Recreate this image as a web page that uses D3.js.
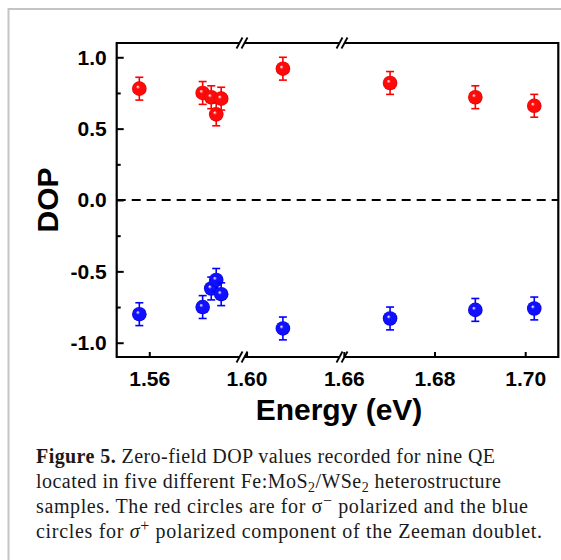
<!DOCTYPE html>
<html><head><meta charset="utf-8">
<script src="https://cdn.jsdelivr.net/npm/d3@7"></script>
<style>body{margin:0;background:#fff}svg{display:block}</style>
</head><body>
<svg id="chart" width="561" height="560"></svg>
<script>
// ---- data ----
const energies = [1.5578, 1.5718, 1.5737, 1.5748, 1.5759, 1.608, 1.6702, 1.689, 1.702];
const dopRed   = [0.78, 0.75, 0.72, 0.60, 0.71, 0.92, 0.82, 0.72, 0.66];
const errRed   = [0.08, 0.08, 0.08, 0.08, 0.08, 0.08, 0.08, 0.08, 0.08];
const dopBlue  = [-0.80, -0.75, -0.62, -0.56, -0.66, -0.90, -0.83, -0.77, -0.76];
const errBlue  = [0.08, 0.08, 0.08, 0.08, 0.08, 0.08, 0.08, 0.08, 0.08];
const xTicks = [1.56, 1.60, 1.66, 1.68, 1.70];
const xTickLabels = ["1.56", "1.60", "1.66", "1.68", "1.70"];
const yTicks = [1.0, 0.5, 0.0, -0.5, -1.0];
const yTickLabels = ["1.0", "0.5", "0.0", "-0.5", "-1.0"];
const yMinorTicks = [0.75, 0.25, -0.25, -0.75];
// broken x axis: three segments
const xSegments = [[1.5528, 1.5805], [1.5990, 1.6210], [1.6596, 1.7073]];

const svg = d3.select("#chart");
const L = 116.7, R = 558.3, T = 43, B = 357;
const brk = [242, 342];

const x = d3.scaleLinear()
  .domain([xSegments[0][0], xSegments[0][1], xSegments[1][0], xSegments[1][1], xSegments[2][0], xSegments[2][1]])
  .range([L, brk[0], brk[0], brk[1], brk[1], R]);
const y = d3.scaleLinear().domain([-1.1, 1.1]).range([B, T]);

// outer gray frame
svg.append("rect").attr("x", 8.5).attr("y", 9).attr("width", 700).attr("height", 700)
  .attr("fill", "none").attr("stroke", "#c4c4c4").attr("stroke-width", 2);

// gradients
const defs = svg.append("defs");
function grad(id, base, dark) {
  const g = defs.append("radialGradient").attr("id", id)
    .attr("cx", "50%").attr("cy", "50%").attr("r", "50%").attr("fx", "38%").attr("fy", "36%");
  g.append("stop").attr("offset", "0%").attr("stop-color", "#ffffff");
  g.append("stop").attr("offset", "28%").attr("stop-color", base);
  g.append("stop").attr("offset", "85%").attr("stop-color", base);
  g.append("stop").attr("offset", "100%").attr("stop-color", dark);
}
grad("gRed", "#ff0a0a", "#d00000");
grad("gBlue", "#1010ff", "#0000c8");

// zero dashed line
svg.append("line").attr("x1", L).attr("x2", R).attr("y1", y(0)).attr("y2", y(0))
  .attr("stroke", "#000").attr("stroke-width", 2).attr("stroke-dasharray", "9,6");

// axes box with breaks
const axG = svg.append("g").attr("stroke", "#000").attr("stroke-width", 2.2).attr("fill", "none");
const gap = 3;
[T, B].forEach(yy => {
  const segs = [[L, brk[0] - gap], [brk[0] + gap, brk[1] - gap], [brk[1] + gap, R]];
  segs.forEach(([a, b]) => axG.append("line").attr("x1", a).attr("x2", b).attr("y1", yy).attr("y2", yy));
  brk.forEach(bx => {
    [-2.5, 2.5].forEach(o => {
      axG.append("line").attr("x1", bx + o - 3).attr("y1", yy + 5.5).attr("x2", bx + o + 3).attr("y2", yy - 5.5)
        .attr("stroke-width", 1.8);
    });
  });
});
axG.append("line").attr("x1", L).attr("x2", L).attr("y1", T - 1).attr("y2", B + 1);
axG.append("line").attr("x1", R).attr("x2", R).attr("y1", T - 1).attr("y2", B + 1);

// y ticks
const yAxis = d3.axisLeft(y).tickValues(yTicks).tickSize(-7).tickPadding(10)
  .tickFormat((d, i) => yTickLabels[i]);
const gy = svg.append("g").attr("transform", `translate(${L},0)`).call(yAxis);
gy.select(".domain").remove();
gy.selectAll(".tick line").attr("stroke", "#000").attr("stroke-width", 2);
gy.selectAll(".tick text").attr("font-family", "Liberation Sans, Arial, sans-serif")
  .attr("font-weight", "bold").attr("font-size", 21).attr("fill", "#000");
const yMinor = d3.axisLeft(y).tickValues(yMinorTicks).tickSize(-4).tickFormat("");
const gym = svg.append("g").attr("transform", `translate(${L},0)`).call(yMinor);
gym.select(".domain").remove();
gym.selectAll(".tick line").attr("stroke", "#000").attr("stroke-width", 2);

// x ticks
const xAxis = d3.axisBottom(x).tickValues(xTicks).tickSize(-5).tickPadding(14)
  .tickFormat((d, i) => xTickLabels[i]);
const gx = svg.append("g").attr("transform", `translate(0,${B})`).call(xAxis);
gx.select(".domain").remove();
gx.selectAll(".tick line").attr("stroke", "#000").attr("stroke-width", 2);
gx.selectAll(".tick text").attr("font-family", "Liberation Sans, Arial, sans-serif")
  .attr("font-weight", "bold").attr("font-size", 21).attr("fill", "#000");

// axis titles
svg.append("text").attr("x", 339).attr("y", 420).attr("text-anchor", "middle")
  .attr("font-family", "Liberation Sans, Arial, sans-serif").attr("font-weight", "bold")
  .attr("font-size", 30).text("Energy (eV)");
svg.append("text").attr("transform", `translate(58,${y(0)}) rotate(-90)`).attr("text-anchor", "middle")
  .attr("font-family", "Liberation Sans, Arial, sans-serif").attr("font-weight", "bold")
  .attr("font-size", 30).text("DOP");

// data series
function series(vals, errs, color, gid) {
  const g = svg.append("g");
  const pts = energies.map((e, i) => ({ e, v: vals[i], err: errs[i] }));
  pts.forEach(p => {
    const eg = g.append("g").attr("stroke", color).attr("stroke-width", 1.6);
    eg.append("line").attr("x1", x(p.e)).attr("x2", x(p.e)).attr("y1", y(p.v + p.err)).attr("y2", y(p.v - p.err));
    eg.append("line").attr("x1", x(p.e) - 4).attr("x2", x(p.e) + 4).attr("y1", y(p.v + p.err)).attr("y2", y(p.v + p.err));
    eg.append("line").attr("x1", x(p.e) - 4).attr("x2", x(p.e) + 4).attr("y1", y(p.v - p.err)).attr("y2", y(p.v - p.err));
    g.append("circle").attr("cx", x(p.e)).attr("cy", y(p.v)).attr("r", 7.3).attr("fill", `url(#${gid})`);
  });
}
series(dopRed, errRed, "#ff0000", "gRed");
series(dopBlue, errBlue, "#0000ff", "gBlue");

// caption
const cap = svg.append("g").attr("font-family", "Liberation Serif, Times New Roman, serif")
  .attr("font-size", 20).attr("fill", "#1a1a1a");
const capX = 36;
const l1 = cap.append("text").attr("x", capX).attr("y", 463).attr("textLength", 459).attr("lengthAdjust", "spacing");
l1.append("tspan").attr("font-weight", "bold").text("Figure 5.");
l1.append("tspan").text(" Zero-field DOP values recorded for nine QE");
const l2 = cap.append("text").attr("x", capX).attr("y", 488).attr("textLength", 465).attr("lengthAdjust", "spacing");
l2.append("tspan").text("located in five different Fe:MoS");
l2.append("tspan").attr("font-size", 14).attr("dy", 4).text("2");
l2.append("tspan").attr("dy", -4).text("/WSe");
l2.append("tspan").attr("font-size", 14).attr("dy", 4).text("2");
l2.append("tspan").attr("dy", -4).text(" heterostructure");
const l3 = cap.append("text").attr("x", capX).attr("y", 513).attr("textLength", 492).attr("lengthAdjust", "spacing");
l3.append("tspan").text("samples. The red circles are for σ");
l3.append("tspan").attr("font-size", 16).attr("dy", -7).text("−");
l3.append("tspan").attr("dy", 7).text(" polarized and the blue");
const l4 = cap.append("text").attr("x", capX).attr("y", 538).attr("textLength", 506).attr("lengthAdjust", "spacing");
l4.append("tspan").text("circles for ");
l4.append("tspan").attr("font-style", "italic").text("σ");
l4.append("tspan").attr("font-size", 16).attr("dy", -7).text("+");
l4.append("tspan").attr("dy", 7).text(" polarized component of the Zeeman doublet.");
</script>
</body></html>
